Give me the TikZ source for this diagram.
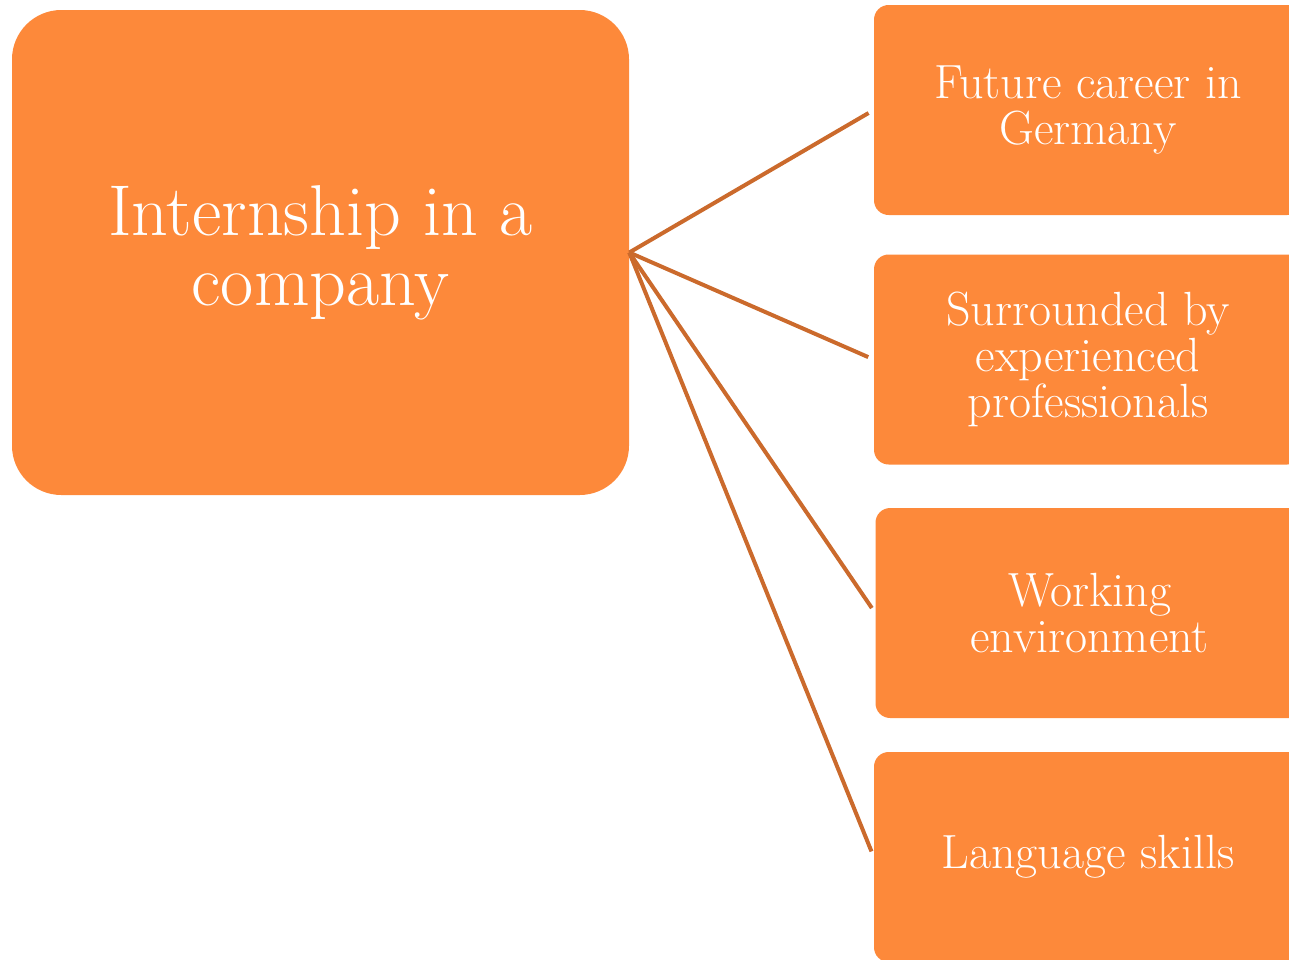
\documentclass[tikz,border=0pt]{standalone}
\usepackage{fontspec}
\usepackage{tikz}

\definecolor{boxorange}{HTML}{FD893A}
\definecolor{linkorange}{HTML}{CB6A2C}

\begin{document}
\begin{tikzpicture}[x=0.75pt,y=0.75pt,yscale=-1,xscale=1,
  bigbox/.style={fill=boxorange,draw=none,rounded corners=37pt,minimum width=617*0.75pt,minimum height=485*0.75pt,text=white,align=center,font=\fontsize{54}{52.5}\selectfont,inner sep=0pt},
  smallbox/.style={fill=boxorange,draw=none,rounded corners=11pt,minimum width=428*0.75pt,minimum height=210*0.75pt,text=white,align=center,font=\fontsize{36}{34.5}\selectfont,inner sep=0pt},
  link/.style={draw=linkorange,line width=3pt,shorten >=4.5pt}]
\clip (0,0) rectangle (1289,960);

% Main box
\node [bigbox] (intern) at (320.5,252.5) {Internship in a\\company};

% Right boxes
\node [smallbox] (career) at (1088,110) {Future career in\\Germany};
\node [smallbox] (pros) at (1088,359.5) {Surrounded by\\experienced\\professionals};
\node [smallbox] (work) at (1089.5,613) {Working\\environment};
\node [smallbox] (lang) at (1088,857) {Language skills};

% Links
\draw [link] (intern.east) -- (career.west);
\draw [link] (intern.east) -- (pros.west);
\draw [link] (intern.east) -- (work.west);
\draw [link] (intern.east) -- (lang.west);

\end{tikzpicture}
\end{document}
